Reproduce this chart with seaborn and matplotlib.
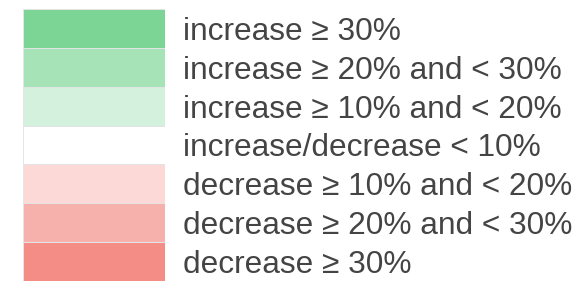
import numpy as np
import pandas as pd
import matplotlib.pyplot as plt
from matplotlib.colors import ListedColormap
import seaborn as sns

# Classes da legenda (de cima para baixo)
rotulos = [
    'increase ≥ 30%',
    'increase ≥ 20% and < 30%',
    'increase ≥ 10% and < 20%',
    'increase/decrease < 10%',
    'decrease ≥ 10% and < 20%',
    'decrease ≥ 20% and < 30%',
    'decrease ≥ 30%',
]
classes = [0, 1, 2, 3, 4, 5, 6]
cores = ['#7dd595', '#a6e4b8', '#d4f1dd', '#ffffff', '#fcd9d7', '#f7b1ad', '#f38d85']

sns.set_style('white')
plt.rcParams['font.family'] = ['Liberation Sans', 'DejaVu Sans']

df = pd.DataFrame({'classe': classes}, index=rotulos)

fig = plt.figure(figsize=(5.84, 2.84), dpi=100)
ax = fig.add_axes([23 / 584, 1 - 281 / 284, 142 / 584, 272 / 284])
sns.heatmap(df, ax=ax, cmap=ListedColormap(cores), cbar=False,
            vmin=-0.5, vmax=6.5, linewidths=0.6, linecolor='#e4e4e4',
            xticklabels=False, yticklabels=True)

ax.yaxis.tick_right()
ax.tick_params(axis='y', length=0, pad=13, labelsize=22.8, labelcolor='#444444',
               labelrotation=0)
ax.set_ylabel('')
ax.set_xlabel('')

fig.savefig('out.png', dpi=100)
